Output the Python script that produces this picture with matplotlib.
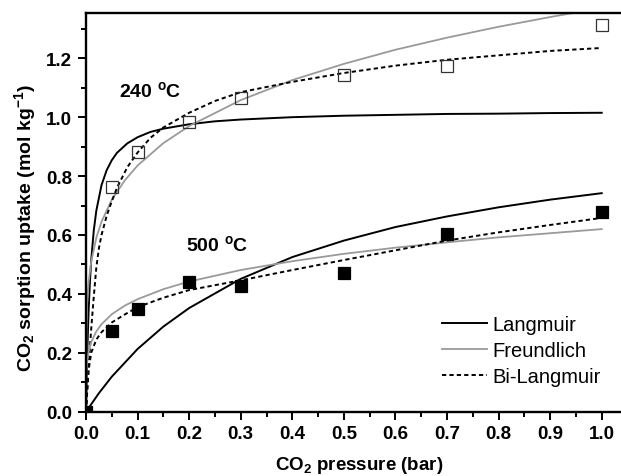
"""CO2 sorption isotherms at 240 and 500 C with Langmuir / Freundlich /
Bi-Langmuir fit curves (values read off the reference figure)."""
import matplotlib
matplotlib.use('Agg')
import matplotlib.pyplot as plt
from matplotlib.ticker import MultipleLocator, FormatStrFormatter

plt.rcParams['font.family'] = ['Liberation Sans', 'DejaVu Sans']
plt.rcParams['font.weight'] = 'bold'
plt.rcParams['axes.labelweight'] = 'bold'
plt.rcParams['mathtext.fontset'] = 'custom'
plt.rcParams['mathtext.rm'] = 'Liberation Sans:bold'
plt.rcParams['mathtext.it'] = 'Liberation Sans:bold'
plt.rcParams['mathtext.bf'] = 'Liberation Sans:bold'
plt.rcParams['mathtext.default'] = 'rm'

# measured uptake (mol/kg) vs CO2 pressure (bar)
p_240 = [0.05, 0.1, 0.2, 0.3, 0.5, 0.7, 1.0]
q_240 = [0.763, 0.881, 0.983, 1.064, 1.143, 1.174, 1.314]
p_500 = [0.0, 0.05, 0.1, 0.2, 0.3, 0.5, 0.7, 1.0]
q_500 = [0.0, 0.275, 0.349, 0.441, 0.426, 0.471, 0.603, 0.677]

# fit curves, 240 C
lang240_p = [0, 0.0025, 0.005, 0.0075, 0.01, 0.015, 0.02, 0.03, 0.04, 0.05,
             0.06, 0.08, 0.1, 0.125, 0.15, 0.2, 0.25, 0.3, 0.4, 0.5, 0.6,
             0.7, 0.8, 0.9, 1.0]
lang240_q = [0, 0.205, 0.342, 0.439, 0.513, 0.615, 0.683, 0.769, 0.820,
             0.854, 0.879, 0.911, 0.932, 0.950, 0.961, 0.976, 0.986, 0.992,
             1.000, 1.005, 1.008, 1.011, 1.012, 1.014, 1.015]
freu240_p = [0, 0.001, 0.0025, 0.005, 0.01, 0.02, 0.03, 0.05, 0.075, 0.1,
             0.15, 0.2, 0.3, 0.4, 0.5, 0.6, 0.7, 0.8, 0.9, 1.0]
freu240_q = [0, 0.311, 0.378, 0.439, 0.509, 0.591, 0.645, 0.720, 0.785,
             0.836, 0.912, 0.970, 1.058, 1.126, 1.181, 1.229, 1.270, 1.307,
             1.340, 1.371]
bil240_p = [0, 0.005, 0.01, 0.015, 0.02, 0.025, 0.03, 0.04, 0.05, 0.06,
            0.08, 0.1, 0.125, 0.15, 0.2, 0.25, 0.3, 0.4, 0.5, 0.6, 0.7,
            0.8, 0.9, 1.0]
bil240_q = [0, 0.15, 0.28, 0.39, 0.49, 0.555, 0.60, 0.665, 0.715, 0.76,
            0.83, 0.88, 0.93, 0.965, 1.015, 1.055, 1.085, 1.12, 1.15,
            1.175, 1.195, 1.21, 1.225, 1.235]

# fit curves, 500 C
lang500_p = [0, 0.025, 0.05, 0.1, 0.15, 0.2, 0.3, 0.4, 0.5, 0.6, 0.7, 0.8,
             0.9, 1.0]
lang500_q = [0, 0.063, 0.119, 0.213, 0.289, 0.352, 0.451, 0.525, 0.581,
             0.627, 0.663, 0.694, 0.720, 0.742]
freu500_p = [0, 0.001, 0.0025, 0.005, 0.01, 0.02, 0.03, 0.05, 0.075, 0.1,
             0.15, 0.2, 0.3, 0.4, 0.5, 0.6, 0.7, 0.8, 0.9, 1.0]
freu500_q = [0, 0.145, 0.176, 0.204, 0.236, 0.273, 0.297, 0.331, 0.360,
             0.382, 0.416, 0.442, 0.481, 0.511, 0.536, 0.557, 0.575, 0.592,
             0.606, 0.620]
bil500_p = [0, 0.0025, 0.005, 0.01, 0.02, 0.03, 0.05, 0.075, 0.1, 0.15,
            0.2, 0.3, 0.4, 0.5, 0.6, 0.7, 0.8, 0.9, 1.0]
bil500_q = [0, 0.08, 0.14, 0.20, 0.245, 0.27, 0.303, 0.33, 0.355, 0.387,
            0.413, 0.446, 0.481, 0.515, 0.548, 0.581, 0.609, 0.634, 0.658]

GREY = '#9a9a9a'
DASH = (0, (2.2, 1.6))

fig = plt.figure(figsize=(6.21, 4.77), dpi=100)
ax = fig.add_axes([0.1377, 0.1348, 0.88, 0.836])

# 240 C
ax.plot(lang240_p, lang240_q, color='black', lw=1.4, label='Langmuir')
ax.plot(freu240_p, freu240_q, color=GREY, lw=1.3, label='Freundlich')
ax.plot(bil240_p, bil240_q, color='black', lw=1.4, ls=DASH,
        label='Bi-Langmuir')
# 500 C
ax.plot(lang500_p, lang500_q, color='black', lw=1.4)
ax.plot(freu500_p, freu500_q, color=GREY, lw=1.3)
ax.plot(bil500_p, bil500_q, color='black', lw=1.4, ls=DASH)

ax.plot(p_240, q_240, ls='none', marker='s', ms=8, mfc='none',
        mec='#333333', mew=0.9, zorder=5)
ax.plot(p_500, q_500, ls='none', marker='s', ms=8, mfc='black',
        mec='black', mew=0.9, zorder=5)

ax.text(0.064, 1.092, '240 $^{o}$C', fontsize=14, va='center')
ax.text(0.194, 0.568, '500 $^{o}$C', fontsize=14, va='center')

ax.set_xlim(-0.001, 1.0587)
ax.set_ylim(0, 1.354)
ax.xaxis.set_major_locator(MultipleLocator(0.1))
ax.xaxis.set_minor_locator(MultipleLocator(0.05))
ax.yaxis.set_major_locator(MultipleLocator(0.2))
ax.yaxis.set_minor_locator(MultipleLocator(0.1))
ax.xaxis.set_major_formatter(FormatStrFormatter('%.1f'))
ax.yaxis.set_major_formatter(FormatStrFormatter('%.1f'))
ax.tick_params(which='major', direction='out', length=6, width=1.4,
               labelsize=13.5, top=False, right=False)
ax.tick_params(which='minor', direction='out', length=3.5, width=1.4,
               top=False, right=False)
for s in ax.spines.values():
    s.set_linewidth(1.7)
ax.spines['right'].set_visible(False)

ax.set_xlabel('CO$_2$ pressure (bar)', fontsize=13.5, labelpad=9)
ax.set_ylabel('CO$_2$ sorption uptake (mol kg$^{-1}$)', fontsize=14)
ax.yaxis.set_label_coords(-0.087, 0.463)

ax.legend(loc='lower right', bbox_to_anchor=(0.958, 0.045), frameon=False,
          prop={'weight': 'normal', 'size': 14.5}, handlelength=2.2,
          handletextpad=0.3, labelspacing=0.33, borderaxespad=0)

fig.savefig('out.png', dpi=100)
